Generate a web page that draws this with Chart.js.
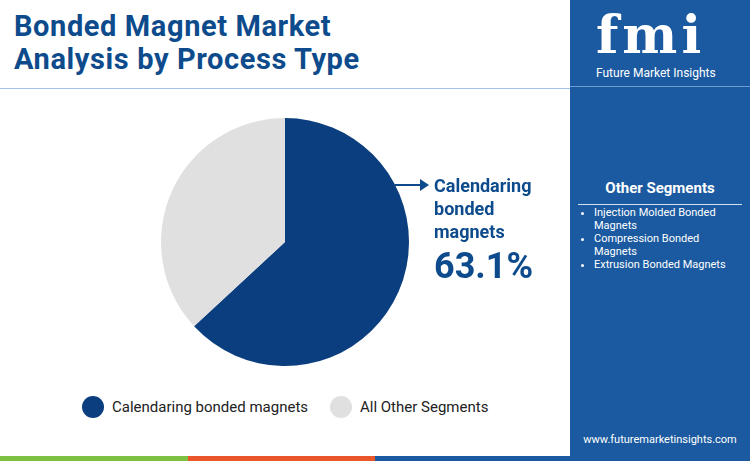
<!DOCTYPE html>
<html><head><meta charset="utf-8">
<script src="https://cdn.jsdelivr.net/npm/chart.js@4/dist/chart.umd.min.js"></script>
<style>
body{margin:0;width:750px;height:461px;position:relative;overflow:hidden;background:#fff;font-family:Rubik,"Open Sans",Roboto,sans-serif}
#title{position:absolute;left:14px;top:10px;font:700 29px Roboto,sans-serif;color:#0d4b8c;line-height:33px;letter-spacing:0.6px}
#sep{position:absolute;left:0;top:88px;width:570px;height:1px;background:#9fc3e6}
#panel{position:absolute;left:570px;top:0;width:180px;height:461px;background:#1b5aa0}
#chartbox{position:absolute;left:161px;top:118px;width:248px;height:248px}
#lbl{position:absolute;left:434px;top:174px;color:#0d4b8c;font:700 18px Roboto,sans-serif;line-height:23px}
#pct{font-size:36px;line-height:46px}
#arrow{position:absolute;left:395px;top:184px;width:30px;height:2px;background:#0d4b8c}
#arrowhead{position:absolute;left:420px;top:179px;width:0;height:0;border-left:9px solid #0d4b8c;border-top:6px solid transparent;border-bottom:6px solid transparent}
.leg{position:absolute;top:396px;font:15px Roboto,sans-serif;color:#222;display:flex;align-items:center}
.dot{width:22px;height:22px;border-radius:50%;margin-right:8px}
.w{color:#fff;position:absolute}
#bottom{position:absolute;left:0;top:456px;width:750px;height:5px;display:flex}
</style></head><body>
<div id="title">Bonded Magnet Market<br>Analysis by Process Type</div>
<div id="sep"></div>
<div id="chartbox"><canvas id="c"></canvas></div>
<div id="arrow"></div><div id="arrowhead"></div>
<div id="lbl">Calendaring<br>bonded<br>magnets<br><span id="pct">63.1%</span></div>
<div class="leg" style="left:82px"><div class="dot" style="background:#0b3e7e"></div>Calendaring bonded magnets</div>
<div class="leg" style="left:330px"><div class="dot" style="background:#e0e0e0"></div>All Other Segments</div>
<div id="panel">
 <div class="w" style="left:26px;top:4px;font:700 52px 'DejaVu Serif',serif;letter-spacing:4px">fmi</div>
 <div class="w" style="left:26px;top:66px;font:12px Roboto,sans-serif">Future Market Insights</div>
 <div class="w" style="left:0;width:180px;top:86px;height:1px;background:#6e9ccc"></div>
 <div class="w" style="left:0;width:180px;top:179px;text-align:center;font:700 15px Roboto,sans-serif">Other Segments</div>
 <div class="w" style="left:8px;width:164px;top:204px;height:1px;background:#cfe0f2"></div>
 <ul class="w" style="left:0;top:206px;margin:0;padding-left:24px;font:11px Roboto,sans-serif;line-height:13px;width:150px">
  <li>Injection Molded Bonded Magnets</li><li>Compression Bonded Magnets</li><li>Extrusion Bonded Magnets</li></ul>
 <div class="w" style="left:0;width:180px;top:433px;text-align:center;font:11px Roboto,sans-serif">www.futuremarketinsights.com</div>
</div>
<div id="bottom"><div style="flex:1;background:#7cc142"></div><div style="flex:1;background:#e8562a"></div><div style="flex:1;background:#1b5aa0"></div><div style="flex:1;background:#1b5aa0"></div></div>
<script>
const categories=["Calendaring bonded magnets","All Other Segments"];
const values=[63.1,36.9];
const colors=["#0b3e7e","#e0e0e0"];
new Chart(document.getElementById('c'),{type:'pie',data:{labels:categories,datasets:[{data:values,backgroundColor:colors,borderWidth:0}]},
options:{responsive:true,maintainAspectRatio:false,animation:false,plugins:{legend:{display:false},tooltip:{enabled:false}}}});
</script>
</body></html>
